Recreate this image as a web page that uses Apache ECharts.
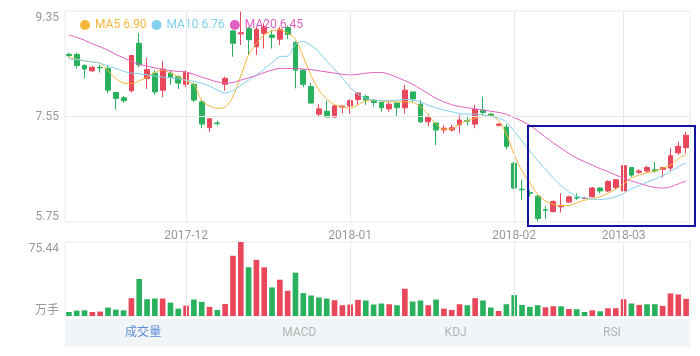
<!DOCTYPE html>
<html><head><meta charset="utf-8">
<script src="https://cdn.jsdelivr.net/npm/echarts@6/dist/echarts.min.js"></script>
<style>html,body{margin:0;padding:0;background:#fff}#c{width:700px;height:356px}</style>
</head><body><div id="c"></div>
<script>
const dates = [
 '2017-11-10','2017-11-13','2017-11-14','2017-11-15','2017-11-16','2017-11-17','2017-11-20','2017-11-21','2017-11-22','2017-11-23','2017-11-24','2017-11-27','2017-11-28','2017-11-29','2017-11-30',
 '2017-12-01','2017-12-04','2017-12-05','2017-12-06','2017-12-07','2017-12-08','2017-12-11','2017-12-12','2017-12-13','2017-12-14','2017-12-15','2017-12-18','2017-12-19','2017-12-20','2017-12-21','2017-12-22','2017-12-25','2017-12-26','2017-12-27','2017-12-28','2017-12-29',
 '2018-01-02','2018-01-03','2018-01-04','2018-01-05','2018-01-08','2018-01-09','2018-01-10','2018-01-11','2018-01-12','2018-01-15','2018-01-16','2018-01-17','2018-01-18','2018-01-19','2018-01-22','2018-01-23','2018-01-24','2018-01-25','2018-01-26','2018-01-29','2018-01-30',
 '2018-02-01','2018-02-02','2018-02-05','2018-02-06','2018-02-07','2018-02-08','2018-02-09','2018-02-12','2018-02-13','2018-02-14','2018-02-22','2018-02-23','2018-02-26','2018-02-27',
 '2018-03-01','2018-03-02','2018-03-05','2018-03-06','2018-03-07','2018-03-08','2018-03-09','2018-03-12','2018-03-13'
];
const monthStarts = ['2017-12-01','2018-01-02','2018-02-01','2018-03-01'];

const opens  = [8.61,8.61,8.42,8.33,8.39,8.37,7.96,7.87,7.99,8.80,8.20,8.29,8.00,8.29,8.23,8.10,8.10,7.80,7.36,7.44,8.10,9.01,8.96,9.05,8.74,8.97,8.94,8.87,9.07,8.81,8.34,8.06,7.59,7.64,7.54,7.71,7.73,7.84,7.89,7.83,7.79,7.68,7.78,7.70,7.97,7.76,7.46,7.44,7.32,7.32,7.41,7.48,7.42,7.66,7.59,7.40,7.37,6.75,6.31,6.25,6.19,5.96,5.93,6.01,6.09,6.17,6.15,6.18,6.33,6.28,6.34,6.28,6.68,6.60,6.62,6.64,6.65,6.67,6.93,7.02];
const closes = [8.59,8.42,8.36,8.39,8.38,8.00,7.86,7.82,8.59,8.43,8.35,7.97,8.36,8.22,8.12,8.30,7.83,7.42,7.51,7.43,8.20,8.80,8.98,8.86,9.04,9.08,8.90,9.04,8.95,8.34,8.10,7.78,7.68,7.54,7.73,7.73,7.82,7.95,7.83,7.79,7.70,7.76,7.70,8.00,7.85,7.46,7.54,7.32,7.35,7.36,7.49,7.47,7.67,7.62,7.56,7.42,7.04,6.33,6.30,6.24,5.81,5.95,6.10,6.03,6.18,6.16,6.16,6.33,6.28,6.44,6.47,6.71,6.55,6.62,6.68,6.62,6.68,6.88,7.04,7.23];
const lows   = [8.56,8.37,8.20,8.31,8.30,7.95,7.67,7.78,7.96,8.39,8.02,7.92,7.88,8.09,8.02,8.05,7.80,7.35,7.29,7.39,7.99,8.57,8.77,8.60,8.60,8.71,8.71,8.77,8.87,8.03,8.05,7.76,7.54,7.54,7.52,7.60,7.60,7.75,7.75,7.72,7.63,7.63,7.56,7.60,7.80,7.44,7.38,7.06,7.26,7.29,7.26,7.40,7.35,7.57,7.55,7.38,6.99,6.31,6.13,6.18,5.76,5.80,5.91,5.91,6.08,6.13,6.14,6.17,6.24,6.26,6.31,6.25,6.52,6.57,6.59,6.59,6.51,6.62,6.90,6.92];
const highs  = [8.64,8.64,8.44,8.41,8.43,8.42,7.96,7.90,8.60,8.97,8.55,8.34,8.49,8.34,8.25,8.34,8.12,7.84,7.52,7.48,8.23,9.03,9.34,9.08,9.08,9.14,9.03,9.08,9.10,8.84,8.36,8.12,7.76,7.82,7.75,7.73,7.84,7.96,7.92,7.84,7.80,7.83,7.78,8.09,7.97,7.83,7.58,7.44,7.40,7.41,7.58,7.54,7.75,7.89,7.61,7.44,7.42,6.78,6.47,6.29,6.21,6.02,6.12,6.24,6.20,6.24,6.18,6.35,6.34,6.46,6.48,6.76,6.69,6.65,6.71,6.78,6.69,7.01,7.12,7.29];

const volumes = [4.1,5.5,5.8,4.1,4.5,8.6,6.5,5.8,18.2,37.7,17.1,17.8,17.8,13.7,7.5,10.6,16.8,14.4,9.3,6.2,12.3,61.4,75.44,49.7,57.3,49.7,29.1,37.0,25.7,44.2,23.3,20.9,18.9,17.8,16.1,11.0,11.7,16.5,15.8,11.7,12.7,12.0,11.0,27.8,14.7,15.8,11.0,16.8,7.5,6.2,12.0,11.0,18.2,15.8,8.6,5.1,12.0,21.3,11.3,9.3,11.0,8.9,9.9,9.9,7.2,6.9,4.1,5.8,4.8,7.9,7.9,17.1,12.7,11.3,12.0,12.0,10.3,23.0,21.9,17.5];
const volUp = [0,0,0,1,1,0,0,0,1,0,0,0,1,0,0,1,0,0,1,0,1,1,1,0,1,1,0,1,1,0,0,0,0,0,1,1,1,1,0,0,0,1,0,1,0,0,1,0,1,1,1,0,1,0,0,1,0,0,0,0,0,1,1,0,1,0,0,1,0,1,1,1,0,1,0,0,1,1,1,1];

const ma5  = [8.56,8.53,8.50,8.48,8.46,8.33,8.20,8.12,8.11,8.16,8.22,8.30,8.34,8.29,8.23,8.16,8.10,7.82,7.73,7.69,7.71,7.89,8.24,8.60,8.80,8.94,9.01,9.03,8.97,8.87,8.57,8.25,8.00,7.85,7.75,7.72,7.69,7.75,7.82,7.83,7.81,7.80,7.80,7.80,7.79,7.72,7.58,7.42,7.33,7.34,7.42,7.48,7.52,7.56,7.56,7.48,7.25,6.90,6.62,6.42,6.22,6.11,6.05,6.03,6.03,6.08,6.12,6.15,6.18,6.24,6.31,6.40,6.50,6.55,6.59,6.62,6.67,6.72,6.83,6.90];
const ma10 = [8.53,8.52,8.50,8.48,8.46,8.41,8.37,8.32,8.29,8.28,8.26,8.24,8.22,8.21,8.19,8.17,8.15,8.12,8.07,8.00,7.95,7.99,8.08,8.17,8.26,8.36,8.47,8.57,8.58,8.78,8.83,8.76,8.65,8.49,8.36,8.20,8.05,7.93,7.86,7.83,7.82,7.82,7.83,7.84,7.83,7.80,7.74,7.70,7.66,7.63,7.60,7.59,7.59,7.58,7.55,7.52,7.46,7.30,7.13,6.96,6.80,6.65,6.50,6.37,6.26,6.19,6.16,6.14,6.13,6.15,6.18,6.24,6.32,6.37,6.43,6.48,6.54,6.61,6.69,6.76];
const ma20 = [8.94,8.90,8.85,8.79,8.74,8.68,8.61,8.55,8.49,8.44,8.41,8.38,8.35,8.33,8.32,8.31,8.27,8.22,8.18,8.14,8.12,8.13,8.17,8.21,8.25,8.30,8.34,8.37,8.37,8.37,8.36,8.35,8.33,8.31,8.29,8.27,8.26,8.27,8.29,8.30,8.30,8.27,8.22,8.16,8.10,8.02,7.94,7.86,7.80,7.75,7.72,7.70,7.68,7.66,7.64,7.62,7.59,7.53,7.47,7.40,7.30,7.20,7.10,7.01,6.92,6.84,6.78,6.72,6.66,6.61,6.55,6.50,6.45,6.41,6.37,6.34,6.33,6.35,6.40,6.45];

const priceTicks = [5.75, 7.55, 9.35];
const volTicks = [0, 75.44];
const tabNames = ['成交量','MACD','KDJ','RSI'];

const RED = '#e9475a', GREEN = '#2ab15e';
const C5 = '#f5b83d', C10 = '#82d0ef', C20 = '#e35fc2';
const GRID = '#e8e8e8', LBL = '#999';
const FONT = 'Roboto, "Noto Sans CJK SC", sans-serif';

const candles = opens.map((o, i) => [o, closes[i], lows[i], highs[i]]);
const volData = volumes.map((v, i) => ({value: v, itemStyle: {color: volUp[i] ? RED : GREEN}}));
const last = a => a[a.length - 1].toFixed(2);
const lastVals = {MA5: last(ma5), MA10: last(ma10), MA20: last(ma20)};

const chart = echarts.init(document.getElementById('c'), null, {renderer: 'canvas'});
const labRich = {
  t: {padding: [14, 0, 0, 0], color: LBL, fontSize: 12, fontFamily: FONT},
  b: {padding: [0, 0, 10, 0], color: LBL, fontSize: 12, fontFamily: FONT},
  m: {color: LBL, fontSize: 12, fontFamily: FONT}
};
const markStyle = {
  silent: true, symbol: ['none', 'none'], animation: false,
  label: {show: false}, lineStyle: {color: GRID, type: 'solid', width: 1}
};
const tabW = 625 / tabNames.length;

chart.setOption({
  animation: false,
  backgroundColor: '#fff',
  textStyle: {fontFamily: FONT},
  legend: {
    top: 14, left: 75, icon: 'circle', itemWidth: 10, itemHeight: 10, itemGap: 5,
    textStyle: {fontSize: 12},
    formatter: n => n + ' ' + lastVals[n],
    data: [
      {name: 'MA5', textStyle: {color: C5}},
      {name: 'MA10', textStyle: {color: C10}},
      {name: 'MA20', textStyle: {color: C20}}
    ]
  },
  grid: [
    {left: 65, right: 10, top: 11, height: 211, show: true, borderColor: GRID, borderWidth: 1},
    {left: 65, right: 10, top: 242, height: 74, show: true, borderColor: GRID, borderWidth: 1}
  ],
  xAxis: [
    {type: 'category', data: dates, gridIndex: 0, boundaryGap: true,
     axisLine: {show: false}, axisTick: {show: false}, splitLine: {show: false},
     axisLabel: {interval: (i, v) => monthStarts.includes(v), formatter: v => v.slice(0, 7),
                 color: LBL, fontSize: 12, margin: 8}},
    {type: 'category', data: dates, gridIndex: 1, boundaryGap: true,
     axisLine: {show: false}, axisTick: {show: false}, splitLine: {show: false},
     axisLabel: {show: false}}
  ],
  yAxis: [
    {type: 'value', gridIndex: 0, min: priceTicks[0], max: priceTicks[2], scale: true,
     axisLine: {show: false}, axisTick: {show: false}, splitLine: {show: false},
     axisLabel: {customValues: priceTicks, margin: 6,
       formatter: v => Math.abs(v - priceTicks[2]) < 1e-6 ? '{t|' + v.toFixed(2) + '}'
                     : Math.abs(v - priceTicks[0]) < 1e-6 ? '{b|' + v.toFixed(2) + '}'
                     : '{m|' + v.toFixed(2) + '}',
       rich: labRich}},
    {type: 'value', gridIndex: 1, min: volTicks[0], max: volTicks[1],
     axisLine: {show: false}, axisTick: {show: false}, splitLine: {show: false},
     axisLabel: {customValues: volTicks, margin: 6,
       formatter: v => v === 0 ? '{b|万手}' : '{t|' + v.toFixed(2) + '}',
       rich: labRich}}
  ],
  series: [
    {name: 'gridlines', type: 'line', xAxisIndex: 0, yAxisIndex: 0, z: 1,
     data: dates.map(() => null), symbol: 'none',
     markLine: Object.assign({data: [{yAxis: priceTicks[1]}].concat(monthStarts.map(d => ({xAxis: d})))}, markStyle)},
    {name: 'gridlines2', type: 'line', xAxisIndex: 1, yAxisIndex: 1, z: 1,
     data: dates.map(() => null), symbol: 'none',
     markLine: Object.assign({data: monthStarts.map(d => ({xAxis: d}))}, markStyle)},
    {name: 'K', type: 'candlestick', xAxisIndex: 0, yAxisIndex: 0, z: 3, barWidth: '68%',
     data: candles,
     itemStyle: {color: RED, color0: GREEN, borderColor: RED, borderColor0: GREEN, borderWidth: 1}},
    {name: 'MA5', type: 'line', data: ma5, smooth: 0.3, symbol: 'none', z: 4,
     itemStyle: {color: C5}, lineStyle: {color: C5, width: 1}},
    {name: 'MA10', type: 'line', data: ma10, smooth: 0.3, symbol: 'none', z: 4,
     itemStyle: {color: C10}, lineStyle: {color: C10, width: 1}},
    {name: 'MA20', type: 'line', data: ma20, smooth: 0.3, symbol: 'none', z: 4,
     itemStyle: {color: C20}, lineStyle: {color: C20, width: 1}},
    {name: 'VOL', type: 'bar', xAxisIndex: 1, yAxisIndex: 1, barWidth: '72%', z: 3, data: volData}
  ],
  graphic: [
    {type: 'rect', z: 0, shape: {x: 65, y: 319, width: 625, height: 28}, style: {fill: '#f2f5f8'}},
    ...tabNames.map((t, i) => ({type: 'text', z: 1, x: 65 + tabW * (i + 0.5), y: 333,
      style: {text: t, fill: i === 0 ? '#5b8bd6' : '#b3b3b3', font: '12px ' + FONT, align: 'center', verticalAlign: 'middle'}})),
    {type: 'rect', z: 100, shape: {x: 528, y: 126, width: 167, height: 100},
     style: {fill: 'none', stroke: '#1212a3', lineWidth: 2}}
  ]
});
</script></body></html>
